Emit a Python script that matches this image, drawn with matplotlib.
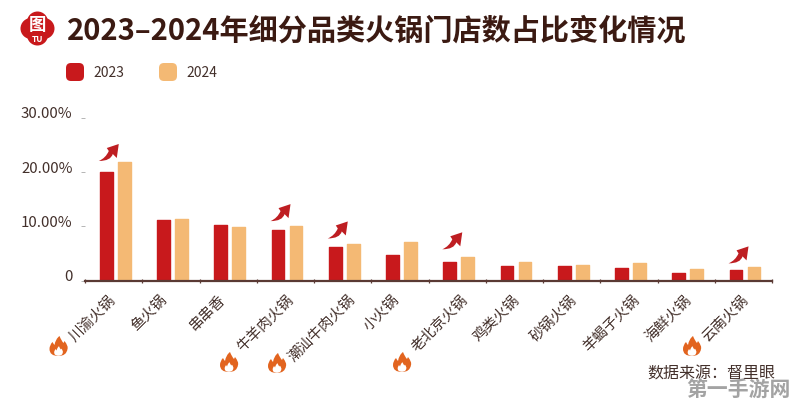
import numpy as np
import matplotlib
matplotlib.use('Agg')
import matplotlib.pyplot as plt
from matplotlib.patches import Circle, FancyBboxPatch, PathPatch
from matplotlib.path import Path

plt.rcParams['font.family'] = ['Noto Sans CJK SC', 'DejaVu Sans']

categories = ['川渝火锅', '鱼火锅', '串串香', '牛羊肉火锅', '潮汕牛肉火锅', '小火锅',
              '老北京火锅', '鸡类火锅', '砂锅火锅', '羊蝎子火锅', '海鲜火锅', '云南火锅']
share_2023 = [20.0, 11.1, 10.3, 9.4, 6.1, 4.8, 3.4, 2.6, 2.6, 2.3, 1.4, 2.0]
share_2024 = [21.8, 11.3, 9.9, 10.1, 6.8, 7.1, 4.3, 3.5, 2.9, 3.2, 2.2, 2.5]
y_ticks = [0, 10, 20, 30]
y_labels = ['0', '10.00%', '20.00%', '30.00%']

# categories that get a red arrow / flame, with the arrow tip height in data units
arrow_idx = [0, 3, 4, 6, 11]
arrow_tip = [25.2, 14.1, 10.9, 8.9, 6.3]
flame_xy = [(58.5, 346), (229, 362), (277, 363), (402, 362), (692, 346)]
# the labels are not placed evenly in the original, nudge each one (pixels)
label_shift = [-5.6, -11, -10, 0.6, 5.4, -8, 3, -2.4, -2.6, 3, -2, -2.4]

RED = '#C8191C'
LIGHT = '#F4B974'
DARK = '#3B1A12'
TEXT = '#43302B'
AXIS = '#5A3A34'
W, H = 796, 407

fig = plt.figure(figsize=(W / 100, H / 100), dpi=100, facecolor='white')

# overlay in pixel coordinates for logo, legend and decorations
over = fig.add_axes([0, 0, 1, 1])
over.set_xlim(0, W)
over.set_ylim(H, 0)
over.axis('off')

ax = fig.add_axes([85 / W, 1 - 280.5 / H, 687 / W, 162.5 / H])
ax.patch.set_alpha(0)
x = np.arange(len(categories)) + 0.5
bw = 0.22
off = 0.157
shift = 0.028
ax.bar(x + shift - off, share_2023, bw, color=RED, edgecolor=RED, linewidth=1.0, joinstyle='round')
ax.bar(x + shift + off, share_2024, bw, color=LIGHT, edgecolor=LIGHT, linewidth=1.0, joinstyle='round')
ax.set_xlim(0, len(categories))
ax.set_ylim(0, 30)

for s in ['top', 'right', 'left']:
    ax.spines[s].set_visible(False)
ax.spines['bottom'].set_color(AXIS)
ax.spines['bottom'].set_linewidth(1.6)
ax.spines['bottom'].set_zorder(5)

ax.set_yticks(y_ticks)
ax.set_yticklabels(y_labels, fontsize=10.8, color=TEXT, va='center')
ax.tick_params(axis='y', length=3, width=0.6, color='#AAAAAA', pad=6, direction='out')
for lab in ax.get_yticklabels():
    lab.set_transform(lab.get_transform() + matplotlib.transforms.Affine2D().translate(0, 3.5))
ax.set_xticks(np.arange(len(categories) + 1))
ax.set_xticklabels([])
ax.tick_params(axis='x', length=3.5, width=0.9, color=AXIS, direction='inout')

for xi, name, dx in zip(x, categories, label_shift):
    ax.annotate(name, (xi, 0), xytext=(dx, -12), textcoords='offset pixels',
                rotation=45, rotation_mode='anchor', ha='right', va='top',
                fontsize=10.5, color=TEXT, annotation_clip=False)

# title and logo
over.text(67, 31, '2023–2024年细分品类火锅门店数占比变化情况', fontsize=21,
          fontweight='bold', color=DARK, ha='left', va='center')
for dx, dy in [(0, -6.5), (0, 6.5), (-6.5, 0), (6.5, 0)]:
    over.add_patch(Circle((37.5 + dx, 28.5 + dy), 10.5, color=RED, lw=0))
over.add_patch(Circle((37.5, 28.5), 12, color=RED, lw=0))
over.text(37.5, 24.5, '图', fontsize=12.5, color='white', ha='center', va='center', fontweight='bold')
over.text(37.5, 39.5, 'TU', fontsize=6, color='white', ha='center', va='center', fontweight='bold')

# legend
for lx, col, lab in [(66, RED, '2023'), (159, LIGHT, '2024')]:
    over.add_patch(FancyBboxPatch((lx + 3, 66), 12, 12, boxstyle='round,pad=3,rounding_size=5',
                                  fc=col, ec='none'))
    over.text(lx + 27, 73, lab, fontsize=10, color=TEXT, ha='left', va='center')


def arrow_patch(tx, ty):
    # swoosh arrow, drawn relative to its tip
    verts = [(0, 0), (-2, 14), (-6, 10), (-8, 17), (-20, 17), (-13, 14), (-10, 7), (-12, 4), (0, 0)]
    codes = [Path.MOVETO, Path.LINETO, Path.LINETO, Path.CURVE3, Path.CURVE3, Path.CURVE3,
             Path.CURVE3, Path.LINETO, Path.CLOSEPOLY]
    v = np.array(verts, dtype=float) + [tx, ty]
    return PathPatch(Path(v, codes), fc='#BE1E22', ec='none')


for i, tip in zip(arrow_idx, arrow_tip):
    px = ax.transData.transform((x[i] + 0.09, tip))
    tx, ty = over.transData.inverted().transform(px)
    over.add_patch(arrow_patch(tx, ty))


def flame_patch(cx, cy, color, s=1.0):
    verts = [(1, -10), (3, -5), (5, -3), (6, -5), (6, -5), (10, 0), (9, 3), (8, 10), (0, 10),
             (-9, 10), (-9, 3), (-9, -1), (-6, -4), (-5, -2), (-4, -1), (-3, -7), (1, -10)]
    codes = [Path.MOVETO, Path.CURVE3, Path.CURVE3, Path.LINETO, Path.LINETO] + [Path.CURVE3] * 12
    v = np.array(verts, dtype=float) * s + [cx, cy]
    return PathPatch(Path(v, codes), fc=color, ec='none')


for (fx, fy) in flame_xy:
    over.add_patch(flame_patch(fx, fy, '#E2641F'))
    over.add_patch(flame_patch(fx, fy + 5, 'white', 0.48))

# source and watermark
over.text(647, 374, '数据来源：督里眼', fontsize=11.5, color=TEXT, ha='left', va='center')
over.text(686, 389, '第一手游网', fontsize=15, color='#A3A3A3', fontweight='bold',
          ha='left', va='center')

fig.savefig('out.png', dpi=100)
